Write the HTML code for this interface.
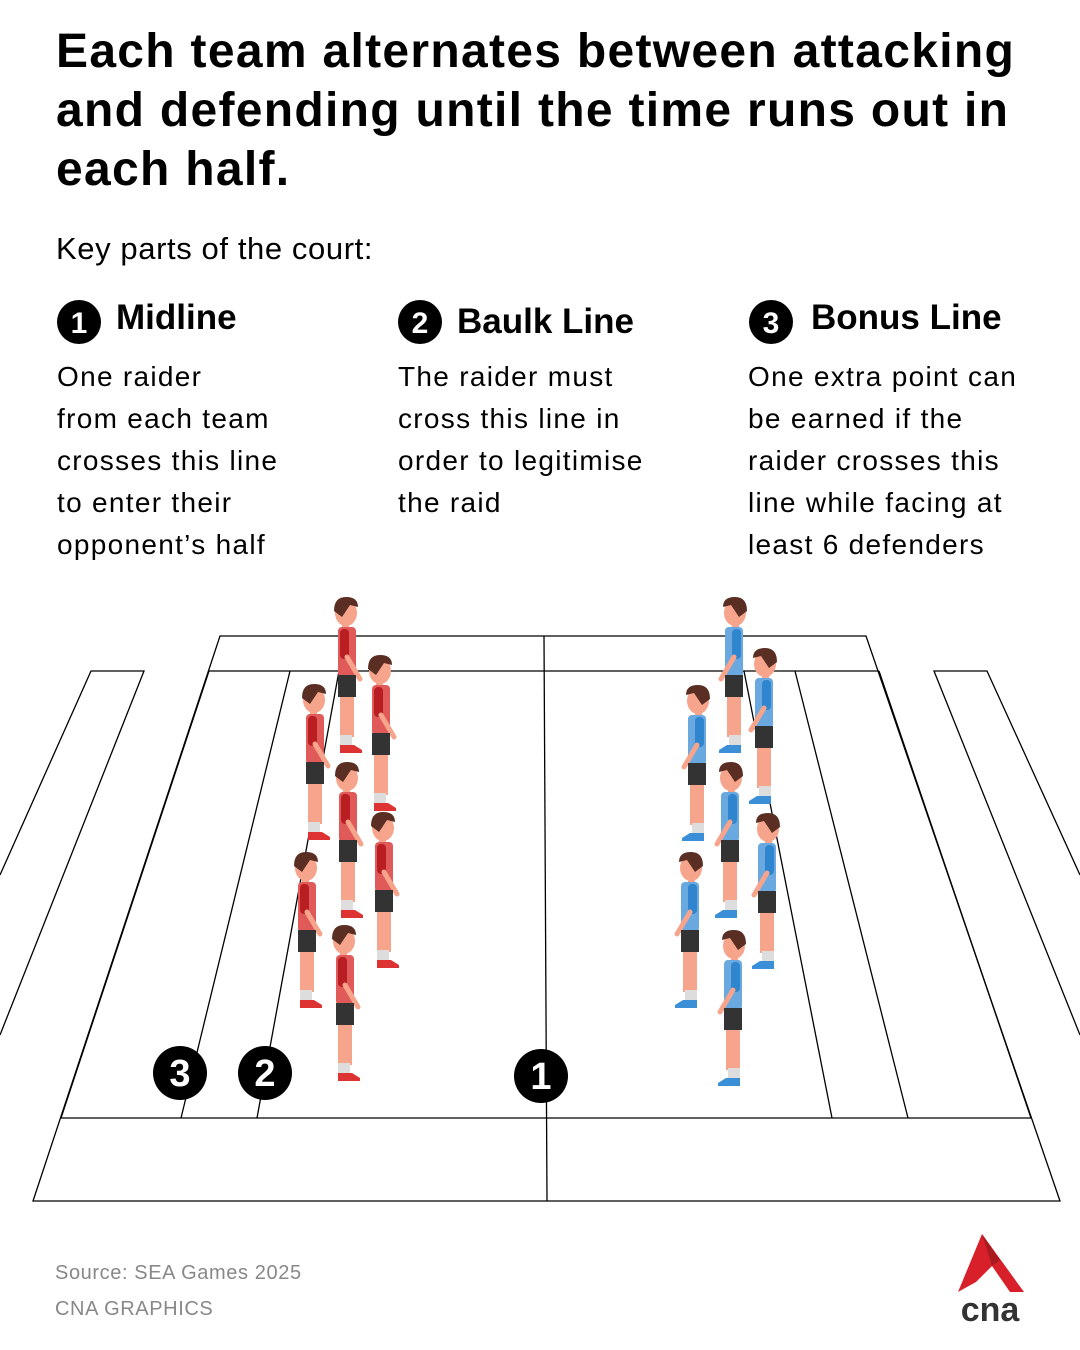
<!DOCTYPE html>
<html><head><meta charset="utf-8"><style>
body{margin:0;background:#fff;}
.w{position:relative;width:1080px;height:1350px;overflow:hidden;font-family:"Liberation Sans",sans-serif;color:#000;}
.t{position:absolute;left:56px;top:22px;font-size:48px;font-weight:bold;line-height:59px;white-space:nowrap;letter-spacing:1.3px}
.k{position:absolute;left:56px;top:231px;font-size:31px;letter-spacing:0.6px}
.h{position:absolute;font-size:35px;font-weight:bold;white-space:nowrap}
.p{position:absolute;font-size:28px;line-height:42px;white-space:nowrap;letter-spacing:1.3px}
.s{position:absolute;left:55px;font-size:20px;color:#888;letter-spacing:0.6px}
</style></head><body><div class="w">
<div class="t">Each team alternates between attacking<br>and defending until the time runs out in<br>each half.</div>
<div class="k">Key parts of the court:</div>
<div class="h" style="left:116px;top:298px">Midline</div>
<div class="h" style="left:457px;top:302px">Baulk Line</div>
<div class="h" style="left:811px;top:298px">Bonus Line</div>
<div class="p" style="left:57px;top:356px">One raider<br>from each team<br>crosses this line<br>to enter their<br>opponent’s half</div>
<div class="p" style="left:398px;top:356px">The raider must<br>cross this line in<br>order to legitimise<br>the raid</div>
<div class="p" style="left:748px;top:356px">One extra point can<br>be earned if the<br>raider crosses this<br>line while facing at<br>least 6 defenders</div>
<div class="s" style="top:1262px">Source: SEA Games 2025</div>
<div class="s" style="top:1298px">CNA GRAPHICS</div>
<svg width="1080" height="1350" style="position:absolute;left:0;top:0">
<defs>
<g id="pr">
<ellipse cx="0" cy="16" rx="11" ry="13" fill="#f6a58c"/>
<path d="M-12 14 Q-12 0 0 0 Q12 0 12 10 L4 8 L-4 20 Z" fill="#5a2e22"/>
<rect x="-4" y="26" width="7" height="6" fill="#f6a58c"/>
<rect x="-8" y="30" width="18" height="50" rx="4" fill="#e05a5a"/>
<rect x="-6" y="32" width="9" height="30" rx="4" fill="#b81e22"/>
<path d="M1 60 L14 82" stroke="#f6a58c" stroke-width="5" stroke-linecap="round"/>
<rect x="-8" y="78" width="18" height="22" fill="#333"/>
<rect x="-6" y="100" width="14" height="40" fill="#f6a58c"/>
<rect x="-6" y="138" width="12" height="11" fill="#ddd"/>
<path d="M-6 148 L8 148 L16 153 L16 156 L-6 156 Z" fill="#d33"/>
</g>
<g id="pb">
<ellipse cx="0" cy="16" rx="11" ry="13" fill="#f6a58c"/>
<path d="M12 14 Q12 0 0 0 Q-12 0 -12 10 L-4 8 L4 20 Z" fill="#5a2e22"/>
<rect x="-3" y="26" width="7" height="6" fill="#f6a58c"/>
<rect x="-10" y="30" width="18" height="50" rx="4" fill="#6aa8e0"/>
<rect x="-3" y="32" width="9" height="30" rx="4" fill="#2f86cf"/>
<path d="M-1 60 L-14 82" stroke="#f6a58c" stroke-width="5" stroke-linecap="round"/>
<rect x="-10" y="78" width="18" height="22" fill="#333"/>
<rect x="-8" y="100" width="14" height="40" fill="#f6a58c"/>
<rect x="-6" y="138" width="12" height="11" fill="#ddd"/>
<path d="M6 148 L-8 148 L-16 153 L-16 156 L6 156 Z" fill="#3b8fd6"/>
</g>
</defs>
<g stroke="#000" stroke-width="1.3" fill="none">
<path d="M220 636 H866 L1060 1201 H33 Z"/>
<path d="M209 671 H879"/>
<path d="M61 1118 H1031"/>
<path d="M209 671 L61 1118 M290 671 L181 1118 M339 671 L257 1118"/>
<path d="M879 671 L1031 1118 M795 671 L908 1118 M744 671 L832 1118"/>
<path d="M544 636 L547 1201"/>
<path d="M0 875 L91 671 H144 L0 1035"/>
<path d="M1080 875 L987 671 H934 L1080 1035"/>
</g>
<use href="#pr" x="346" y="597"/><use href="#pr" x="380" y="655"/><use href="#pr" x="314" y="684"/>
<use href="#pr" x="347" y="762"/><use href="#pr" x="383" y="812"/><use href="#pr" x="306" y="852"/><use href="#pr" x="344" y="925"/>
<use href="#pb" x="735" y="597"/><use href="#pb" x="765" y="648"/><use href="#pb" x="698" y="685"/>
<use href="#pb" x="731" y="762"/><use href="#pb" x="768" y="813"/><use href="#pb" x="691" y="852"/><use href="#pb" x="734" y="930"/>
<g fill="#000"><circle cx="180" cy="1073" r="27"/><circle cx="265" cy="1073" r="27"/><circle cx="541" cy="1076" r="27"/>
<circle cx="79" cy="322" r="22"/><circle cx="420" cy="322" r="22"/><circle cx="771" cy="322" r="22"/></g>
<g fill="#fff" font-family="Liberation Sans" font-weight="bold" text-anchor="middle">
<text x="180" y="1086" font-size="38">3</text><text x="265" y="1086" font-size="38">2</text><text x="541" y="1089" font-size="38">1</text>
<text x="79" y="333" font-size="30">1</text><text x="420" y="333" font-size="30">2</text><text x="771" y="333" font-size="30">3</text>
</g>
<path d="M982 1234 L1024 1292 L1010 1292 L992 1266 L976 1282 L958 1292 Z" fill="#d8202a"/>
<path d="M982 1234 L1000 1260 L992 1266 Z" fill="#a81a20"/>
<text x="990" y="1321" font-family="Liberation Sans" font-weight="bold" font-size="34" fill="#333" text-anchor="middle">cna</text>
</svg>
</div></body></html>
